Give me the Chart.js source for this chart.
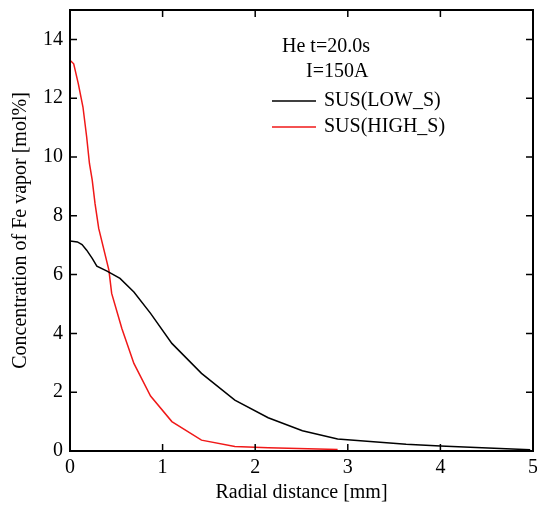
<!DOCTYPE html>
<html>
<head>
<meta charset="utf-8">
<script src="https://cdn.jsdelivr.net/npm/chart.js@4.4.1/dist/chart.umd.min.js"></script>
<style>
  html, body { margin: 0; padding: 0; background: #fff; }
  #wrap { width: 537px; height: 509px; }
</style>
</head>
<body>
<div id="wrap"><canvas id="fe-vapor"></canvas></div>
<script>
// Data
const xTicks = [0, 1, 2, 3, 4, 5];
const yTicks = [0, 2, 4, 6, 8, 10, 12, 14];

const lowX = [0, 0.08, 0.13, 0.18, 0.24, 0.29, 0.4, 0.54, 0.69, 0.87, 1.1, 1.42, 1.78, 2.14, 2.51, 2.89, 3.63, 4.0, 4.45, 4.97];
const lowY = [7.14, 7.11, 7.02, 6.83, 6.55, 6.29, 6.12, 5.87, 5.41, 4.68, 3.66, 2.64, 1.73, 1.13, 0.69, 0.41, 0.23, 0.17, 0.11, 0.04];

const highX = [0, 0.04, 0.09, 0.14, 0.18, 0.21, 0.24, 0.27, 0.31, 0.42, 0.45, 0.56, 0.69, 0.87, 1.1, 1.42, 1.78, 2.14, 2.89];
const highY = [13.29, 13.17, 12.49, 11.7, 10.68, 9.78, 9.21, 8.42, 7.57, 6.15, 5.36, 4.17, 2.98, 1.87, 1.0, 0.37, 0.15, 0.11, 0.05];

const seriesNames = ['SUS(LOW_S)', 'SUS(HIGH_S)'];
const seriesColors = ['#000000', '#f01818'];
const noteLines = ['He t=20.0s', 'I=150A'];

const FONT = "'Liberation Serif', 'Times New Roman', serif";

const toPoints = (xs, ys) => xs.map((x, i) => ({ x: x, y: ys[i] }));

// frame with inward ticks on all four sides
const frameTicks = {
  id: 'frameTicks',
  afterDatasetsDraw(chart) {
    const { ctx, chartArea: a, scales } = chart;
    const len = 7;
    ctx.save();
    ctx.strokeStyle = '#000';
    ctx.lineWidth = 1.5;
    ctx.beginPath();
    xTicks.forEach(v => {
      const px = scales.x.getPixelForValue(v);
      ctx.moveTo(px, a.bottom); ctx.lineTo(px, a.bottom - len);
      ctx.moveTo(px, a.top); ctx.lineTo(px, a.top + len);
    });
    yTicks.forEach(v => {
      const py = scales.y.getPixelForValue(v);
      ctx.moveTo(a.left, py); ctx.lineTo(a.left + len, py);
      ctx.moveTo(a.right, py); ctx.lineTo(a.right - len, py);
    });
    ctx.stroke();
    ctx.lineWidth = 2;
    ctx.strokeRect(a.left, a.top, a.right - a.left, a.bottom - a.top);
    ctx.restore();
  },
};

// annotation text and legend inside the plot
const noteLegend = {
  id: 'noteLegend',
  afterDraw(chart) {
    const { ctx } = chart;
    ctx.save();
    ctx.font = '20px ' + FONT;
    ctx.fillStyle = '#000';
    ctx.textBaseline = 'middle';
    ctx.textAlign = 'left';
    ctx.fillText(noteLines[0], 282, 47);
    ctx.fillText(noteLines[1], 306, 72);
    chart.data.datasets.forEach((ds, i) => {
      const y = 101 + i * 26;
      ctx.strokeStyle = ds.borderColor;
      ctx.lineWidth = 1.3;
      ctx.beginPath();
      ctx.moveTo(272, y);
      ctx.lineTo(316, y);
      ctx.stroke();
      ctx.fillText(ds.label, 324, y);
    });
    ctx.restore();
  },
};

new Chart(document.getElementById('fe-vapor'), {
  type: 'line',
  data: {
    datasets: [
      {
        label: seriesNames[0],
        data: toPoints(lowX, lowY),
        borderColor: seriesColors[0],
        borderWidth: 1.5,
        pointRadius: 0,
        tension: 0,
      },
      {
        label: seriesNames[1],
        data: toPoints(highX, highY),
        borderColor: seriesColors[1],
        borderWidth: 1.5,
        pointRadius: 0,
        tension: 0,
      },
    ],
  },
  options: {
    responsive: true,
    maintainAspectRatio: false,
    animation: false,
    layout: {
      padding: { top: 10, right: 4, left: 0, bottom: 0 },
    },
    plugins: {
      legend: { display: false },
      tooltip: { enabled: false },
    },
    scales: {
      x: {
        type: 'linear',
        min: 0,
        max: 5,
        afterBuildTicks: s => { s.ticks = xTicks.map(v => ({ value: v })); },
        afterFit: s => { s.height = 58; s.paddingLeft = 0; s.paddingRight = 0; },
        grid: { display: false, drawTicks: false },
        border: { display: false },
        ticks: {
          color: '#000',
          padding: 5,
          maxRotation: 0,
          font: { family: FONT, size: 20 },
        },
        title: {
          display: true,
          text: 'Radial distance [mm]',
          color: '#000',
          padding: { top: 0, bottom: 4 },
          font: { family: FONT, size: 20 },
        },
      },
      y: {
        type: 'linear',
        min: 0,
        max: 15,
        afterBuildTicks: s => { s.ticks = yTicks.map(v => ({ value: v })); },
        afterFit: s => { s.width = 70; s.paddingTop = 0; s.paddingBottom = 0; },
        grid: { display: false, drawTicks: false },
        border: { display: false },
        ticks: {
          color: '#000',
          padding: 7,
          font: { family: FONT, size: 20 },
        },
        title: {
          display: true,
          text: 'Concentration of Fe vapor [mol%]',
          color: '#000',
          padding: { top: 9, bottom: 0 },
          font: { family: FONT, size: 20 },
        },
      },
    },
  },
  plugins: [frameTicks, noteLegend],
});
</script>
</body>
</html>
